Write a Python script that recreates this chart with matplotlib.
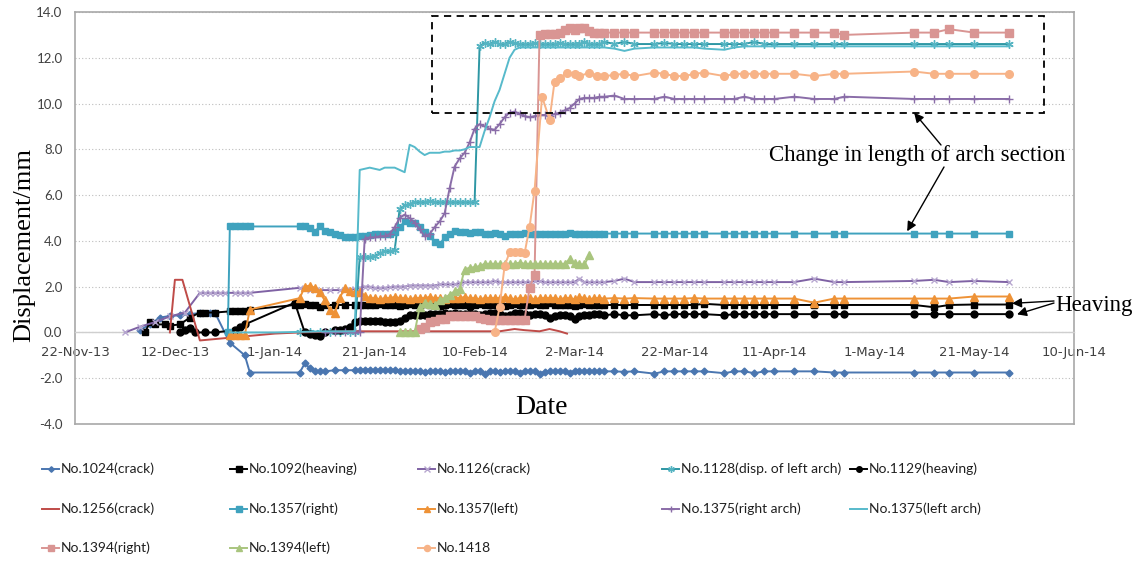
import matplotlib
matplotlib.use('Agg')
import matplotlib.pyplot as plt
import matplotlib.dates as mdates
from matplotlib.patches import Rectangle
from matplotlib.ticker import FuncFormatter, MultipleLocator
from datetime import datetime

plt.rcParams['axes.unicode_minus'] = False

# days counted from 22-Nov-2013
start = mdates.date2num(datetime(2013, 11, 22))

mid_days = [57, 58, 59, 60, 61, 62, 63, 64, 65, 66, 67, 68, 69, 70, 71, 72, 73, 74, 75, 76,
            77, 78, 79, 80, 81, 82, 83, 84, 85, 86, 87, 88, 89, 90, 91, 92, 93, 94, 95, 96,
            97, 98, 99, 100, 101, 102, 103, 104, 105]
late_days = [106, 108, 110, 112, 116, 118, 120, 122, 124, 126, 130, 132, 134, 136, 138, 140,
             144, 148, 152, 154, 168, 172, 175, 180, 187]

# No.1024 (crack)
d1024_early = [13, 15, 17, 19, 21, 23, 25, 27, 28, 31, 34, 35, 45, 46, 47, 48, 49, 50, 52, 54, 56]
v1024_early = [0.1, 0.35, 0.65, 0.72, 0.75, 0.8, 0.85, 0.85, 0.87, -0.45, -1.0, -1.75, -1.75, -1.35,
               -1.55, -1.7, -1.7, -1.7, -1.65, -1.65, -1.65]
v1024_mid = [-1.65, -1.62, -1.62, -1.65, -1.62, -1.65, -1.65, -1.62, -1.7, -1.7, -1.68, -1.7, -1.7, -1.72,
             -1.7, -1.7, -1.7, -1.72, -1.7, -1.7, -1.7, -1.7, -1.75, -1.7,
             -1.7, -1.8, -1.7, -1.7, -1.72, -1.7, -1.7, -1.7, -1.75, -1.7,
             -1.7, -1.7, -1.8, -1.72, -1.7, -1.7, -1.7, -1.7, -1.75, -1.7,
             -1.7, -1.7, -1.7, -1.7, -1.7]
v1024_late = [-1.7, -1.7, -1.72, -1.7, -1.8, -1.7, -1.7, -1.7, -1.7, -1.7, -1.78, -1.7, -1.7,
              -1.78, -1.7, -1.7, -1.7, -1.7, -1.75, -1.75, -1.75, -1.75, -1.75, -1.75, -1.75]

# No.1092 (heaving)
d1092_early = [14, 15, 16, 18, 19, 21, 23, 25, 26, 28, 31, 32, 33, 34, 35, 44, 45, 46, 47, 48,
               49, 50, 52, 54, 56]
v1092_early = [0.0, 0.45, 0.35, 0.35, 0.3, 0.35, 0.65, 0.87, 0.87, 0.87, 0.92, 0.92, 0.92, 0.95,
               1.0, 1.2, 1.2, 1.25, 1.2, 1.2, 1.1, 1.2, 1.2, 1.2, 1.2]
v1092_mid = [1.2, 1.22, 1.2, 1.2, 1.25, 1.2, 1.2, 1.2, 1.15, 1.2,
             1.25, 1.2, 1.2, 1.25, 1.2, 1.2, 1.15, 1.2, 1.25, 1.2,
             1.2, 1.2, 1.15, 1.2, 1.25, 1.2, 1.2, 1.2, 1.2, 1.15,
             1.2, 1.25, 1.2, 1.2, 1.2, 1.25, 1.2, 1.2, 1.3, 1.2,
             1.2, 1.2, 1.2, 1.15, 1.2, 1.25, 1.2, 1.2, 1.2]
v1092_late = [1.2, 1.2, 1.2, 1.2, 1.2, 1.2, 1.2, 1.2, 1.2, 1.25, 1.2, 1.2, 1.2, 1.2, 1.2, 1.2,
              1.2, 1.2, 1.2, 1.2, 1.2, 1.1, 1.2, 1.22, 1.22]

# No.1126 (crack)
d1126_early = [10, 13, 16, 19, 22, 25, 26, 27, 28, 29, 30, 32, 33, 34, 35, 45, 47, 49, 51, 53, 55, 56]
v1126_early = [0.0, 0.25, 0.45, 0.7, 0.87, 1.73, 1.73, 1.73, 1.73, 1.73, 1.73, 1.73, 1.73, 1.73,
               1.73, 1.95, 1.85, 1.85, 1.85, 1.85, 1.85, 1.9]
v1126_mid = [1.95, 2.0, 2.0, 1.95, 1.95, 1.95, 1.98, 2.0,
             2.0, 2.0, 2.05, 2.05, 2.05, 2.05, 2.05, 2.05, 2.1, 2.1, 2.1, 2.1,
             2.15, 2.2, 2.2, 2.2, 2.2, 2.2, 2.2, 2.25, 2.2, 2.2,
             2.2, 2.2, 2.2, 2.2, 2.2, 2.25, 2.25, 2.2, 2.2, 2.2,
             2.2, 2.2, 2.2, 2.2, 2.35, 2.2, 2.2, 2.2, 2.2]
v1126_late = [2.2, 2.25, 2.35, 2.2, 2.2, 2.2, 2.2, 2.2, 2.2, 2.2, 2.2, 2.2, 2.2, 2.2, 2.2, 2.2,
              2.2, 2.35, 2.2, 2.2, 2.25, 2.3, 2.2, 2.25, 2.2]

# No.1128 (disp. of left arch)
d1128_early = [45, 47, 49, 51, 53, 55, 56]
v1128_early = [0.0, 0.0, 0.0, 0.0, 0.0, 0.0, 0.0]
v1128_mid = [3.3, 3.3, 3.3, 3.35, 3.45, 3.55, 3.55, 3.6,
             5.4, 5.55, 5.6, 5.7, 5.7, 5.7, 5.75, 5.7, 5.7, 5.7, 5.7, 5.7, 5.7, 5.7, 5.7, 5.7,
             12.5, 12.65, 12.6, 12.7, 12.6, 12.6, 12.7, 12.65, 12.6, 12.6,
             12.6, 12.65, 12.6, 12.6, 12.6, 12.6, 12.65, 12.6, 12.6, 12.6,
             12.6, 12.7, 12.6, 12.6, 12.6]
v1128_late = [12.7, 12.6, 12.7, 12.6, 12.6, 12.65, 12.6, 12.6, 12.6, 12.6, 12.6, 12.6, 12.6, 12.7,
              12.6, 12.6, 12.6, 12.6, 12.6, 12.6, 12.6, 12.6, 12.6, 12.6, 12.6]

# No.1129 (heaving)
d1129_early = [21, 22, 23, 24, 26, 28, 32, 33, 34, 44, 46, 47, 48, 49, 50, 52, 53, 54, 55, 56]
v1129_early = [0.0, 0.1, 0.2, 0.0, 0.0, 0.0, 0.1, 0.25, 0.35, 1.3, 0.0, -0.05, -0.1, -0.15, 0.0,
               0.1, 0.1, 0.15, 0.25, 0.45]
v1129_mid = [0.48, 0.5, 0.5, 0.5, 0.48, 0.45, 0.45, 0.45, 0.5,
             0.65, 0.75, 0.75, 0.75, 0.78, 0.8, 0.8, 0.8, 0.85, 0.8,
             0.85, 0.8, 0.8, 0.85, 0.8, 0.75, 0.8, 0.85, 0.85, 0.8,
             0.7, 0.75, 0.85, 0.85, 0.8, 0.75, 0.8, 0.8, 0.75, 0.65,
             0.7, 0.75, 0.75, 0.7, 0.6, 0.7, 0.75, 0.75, 0.8, 0.8]
v1129_late = [0.75, 0.8, 0.75, 0.75, 0.8, 0.75, 0.8, 0.8, 0.8, 0.8, 0.75, 0.8, 0.8, 0.8, 0.8, 0.8,
              0.8, 0.8, 0.8, 0.8, 0.8, 0.8, 0.8, 0.8, 0.8]

# No.1256 (crack)
d1256 = [19, 20, 21.5, 25, 30, 35, 40, 45, 55, 65, 75, 85, 88, 90, 93, 95, 97, 98.5]
v1256 = [0.0, 2.3, 2.3, -0.35, -0.25, -0.15, -0.05, 0.0, 0.05, 0.05, 0.05, 0.05, 0.15, 0.1, 0.05,
         0.15, 0.05, -0.05]

# No.1357 (right)
d1357r_early = [30.6, 31, 32, 33, 34, 35, 45, 46, 47, 48, 49, 50, 51, 52, 53, 54, 55, 56]
v1357r_early = [0.0, 4.63, 4.63, 4.63, 4.63, 4.63, 4.63, 4.63, 4.55, 4.4, 4.63, 4.45, 4.4, 4.3,
                4.25, 4.15, 4.15, 4.15]
v1357r_mid = [4.2, 4.2, 4.25, 4.28, 4.28, 4.28, 4.3, 4.4, 4.6, 4.85,
              4.8, 4.8, 4.6, 4.4, 4.2, 3.95, 3.85, 4.15, 4.3, 4.45,
              4.4, 4.4, 4.35, 4.4, 4.4, 4.3, 4.3, 4.35, 4.3, 4.2,
              4.3, 4.3, 4.3, 4.35, 4.3, 4.3, 4.3, 4.3, 4.3, 4.3,
              4.3, 4.3, 4.35, 4.3, 4.3, 4.3, 4.3, 4.3, 4.3]
v1357r_late = [4.32, 4.32, 4.32, 4.32, 4.32, 4.32, 4.32, 4.32, 4.32, 4.32, 4.32, 4.32, 4.32,
               4.32, 4.32, 4.32, 4.32, 4.32, 4.32, 4.32, 4.32, 4.32, 4.32, 4.32, 4.32]

# No.1357 (left)
d1357l_early = [31, 32, 33, 34, 35, 45, 46, 47, 48, 49, 50, 51, 52, 53, 54, 55, 56]
v1357l_early = [-0.1, -0.1, -0.1, -0.1, 1.0, 1.5, 2.0, 2.05, 1.95, 1.75, 1.4, 1.0, 0.87, 1.5, 1.95,
                1.8, 1.75]
v1357l_mid = [1.75, 1.6, 1.5,
              1.5, 1.45, 1.5, 1.5, 1.55, 1.5, 1.5, 1.45, 1.5, 1.5,
              1.5, 1.55, 1.5, 1.5, 1.45, 1.5, 1.5, 1.5, 1.55, 1.5,
              1.5, 1.45, 1.5, 1.5, 1.5, 1.5, 1.55, 1.5, 1.45, 1.5,
              1.5, 1.5, 1.45, 1.5, 1.5, 1.5, 1.5, 1.45, 1.5, 1.5,
              1.45, 1.55, 1.5, 1.45, 1.5, 1.5]
v1357l_late = [1.48, 1.5, 1.48, 1.5, 1.48, 1.48, 1.48, 1.48, 1.5, 1.48, 1.48, 1.48, 1.48, 1.48,
               1.48, 1.48, 1.48, 1.3, 1.48, 1.48, 1.48, 1.48, 1.48, 1.57, 1.57]

# No.1375 (right arch)
d1375r_early = [50, 52, 54, 56]
v1375r_early = [0.0, 0.0, 0.0, 0.0]
v1375r_mid = [0.0, 4.1, 4.15, 4.15, 4.2, 4.2, 4.3, 4.6, 5.0, 5.15,
              5.0, 4.8, 4.5, 4.2, 4.3, 4.6, 4.85, 5.2, 6.3, 7.25,
              7.6, 7.85, 8.3, 8.9, 9.1, 9.0, 8.9, 8.85, 9.1, 9.4,
              9.6, 9.65, 9.55, 9.45, 9.4, 9.45, 9.5, 9.5, 9.45, 9.55,
              9.6, 9.7, 9.8, 10.0, 10.2, 10.25, 10.25, 10.25, 10.3]
v1375r_late = [10.3, 10.35, 10.2, 10.2, 10.2, 10.3, 10.2, 10.2, 10.2, 10.2, 10.2, 10.2, 10.3,
               10.2, 10.2, 10.2, 10.3, 10.2, 10.2, 10.3, 10.2, 10.2, 10.2, 10.2, 10.2]

# No.1375 (left arch)
d1375l_early = [31, 40, 50, 56]
v1375l_early = [0.0, 0.0, 0.05, 0.05]
v1375l_mid = [7.1, 7.15, 7.2, 7.15, 7.1, 7.2, 7.2, 7.2, 7.1, 7.0,
              8.2, 8.1, 7.9, 7.75, 7.85, 7.85, 7.85, 7.9, 7.9, 7.95,
              7.95, 8.0, 8.1, 8.1, 8.1, 8.8, 9.4, 10.1, 10.6, 11.3,
              12.0, 12.35, 12.45, 12.45, 12.45, 12.45, 12.45, 12.45, 12.45, 12.45,
              12.45, 12.45, 12.45, 12.45, 12.45, 12.45, 12.45, 12.45, 12.45]
v1375l_late = [12.45, 12.4, 12.3, 12.4, 12.45, 12.45, 12.45, 12.45, 12.45, 12.4, 12.35, 12.45,
               12.5, 12.5, 12.5, 12.5, 12.5, 12.5, 12.5, 12.5, 12.5, 12.5, 12.5, 12.5, 12.5]

# No.1394 (right)
d1394r_early = [69, 70, 71, 72, 73, 74, 75, 76, 77, 78, 79, 80, 81, 82, 83, 84, 85, 86, 87, 88,
                89, 90, 91, 92, 93, 94, 95, 96, 97, 98, 99, 100, 101, 102, 103, 104, 105]
v1394r_early = [0.15, 0.25, 0.45, 0.5, 0.6, 0.6, 0.7, 0.7, 0.7, 0.7,
                0.7, 0.7, 0.65, 0.6, 0.55, 0.55, 0.55, 0.55, 0.55, 0.55,
                0.55, 0.55, 1.95, 2.5, 13.0, 13.05, 13.05, 13.05, 13.1, 13.2,
                13.3, 13.2, 13.3, 13.3, 13.15, 13.1, 13.1]
v1394r_late = [13.1, 13.1, 13.1, 13.1, 13.1, 13.1, 13.1, 13.1, 13.1, 13.1, 13.1, 13.1, 13.1,
               13.1, 13.1, 13.1, 13.1, 13.1, 13.1, 13.0, 13.1, 13.1, 13.25, 13.1, 13.1]

# No.1394 (left)
d1394l = [65, 66, 67, 68, 69, 70, 71, 72, 73, 74, 75, 76, 77, 78, 79, 80, 81, 82, 83, 84,
          85, 86, 87, 88, 89, 90, 91, 92, 93, 94, 95, 96, 97, 98, 99, 100, 101, 102, 103]
v1394l = [0.0, 0.0, 0.0, 0.0, 1.1, 1.3, 1.25, 1.2, 1.4, 1.5,
          1.65, 1.8, 1.9, 2.75, 2.83, 2.85, 2.9, 3.0, 3.0, 3.0,
          3.0, 3.0, 3.0, 3.0, 3.05, 3.0, 3.0, 3.0, 3.0, 3.0,
          3.0, 3.0, 3.0, 3.0, 3.2, 3.05, 2.97, 2.97, 3.4]

# No.1418
d1418_early = [84, 85, 86, 87, 88, 89, 90, 91, 92, 93.5, 95, 96, 97, 98.5, 100, 101, 103, 104.5]
v1418_early = [0.0, 1.1, 2.9, 3.5, 3.5, 3.5, 3.45, 4.6, 6.2, 10.3, 9.3, 10.95, 11.1, 11.35, 11.3,
               11.2, 11.35, 11.2]
v1418_late = [11.2, 11.25, 11.3, 11.2, 11.35, 11.3, 11.2, 11.2, 11.3, 11.35, 11.2, 11.3, 11.3,
              11.3, 11.3, 11.3, 11.3, 11.2, 11.3, 11.3, 11.4, 11.3, 11.3, 11.3, 11.3]

asterisk = (6, 2, 0)
series = [
    # label, days, values, line colour, marker, marker colour, marker size
    ('No.1024(crack)', d1024_early + mid_days + late_days, v1024_early + v1024_mid + v1024_late,
     '#4A76B0', 'D', '#4A76B0', 3.5),
    ('No.1092(heaving)', d1092_early + mid_days + late_days, v1092_early + v1092_mid + v1092_late,
     '#000000', 's', '#000000', 5),
    ('No.1126(crack)', d1126_early + mid_days + late_days, v1126_early + v1126_mid + v1126_late,
     '#7F62A4', 'x', '#B6A6CF', 5),
    ('No.1128(disp. of left arch)', d1128_early + mid_days + late_days,
     v1128_early + v1128_mid + v1128_late, '#2E97A4', asterisk, '#55B4C2', 6),
    ('No.1129(heaving)', d1129_early + mid_days + late_days, v1129_early + v1129_mid + v1129_late,
     '#000000', 'o', '#000000', 5),
    ('No.1256(crack)', d1256, v1256, '#BF4B48', None, None, 0),
    ('No.1357(right)', d1357r_early + mid_days + late_days, v1357r_early + v1357r_mid + v1357r_late,
     '#3FA2BE', 's', '#3FA2BE', 5),
    ('No.1357(left)', d1357l_early + mid_days + late_days, v1357l_early + v1357l_mid + v1357l_late,
     '#EE9236', '^', '#EE9236', 5.5),
    ('No.1375(right arch)', d1375r_early + mid_days + late_days,
     v1375r_early + v1375r_mid + v1375r_late, '#8A6DA8', '+', '#8A6DA8', 6),
    ('No.1375(left arch)', d1375l_early + mid_days + late_days,
     v1375l_early + v1375l_mid + v1375l_late, '#57BACB', None, None, 0),
    ('No.1394(right)', d1394r_early + late_days, v1394r_early + v1394r_late,
     '#D99593', 's', '#D99593', 5.5),
    ('No.1394(left)', d1394l, v1394l, '#A9C57E', '^', '#A9C57E', 5.5),
    ('No.1418', d1418_early + late_days, v1418_early + v1418_late, '#F7B387', 'o', '#F7B387', 5.5),
]

W, H = 1142, 577
fig = plt.figure(figsize=(W / 100, H / 100), dpi=100)
ax = fig.add_axes([75 / W, 1 - 424 / H, 999 / W, 412 / H])

for i, (label, days, vals, col, mk, mcol, ms) in enumerate(series):
    xs = [start + d for d in days]
    ax.plot(xs, vals, color=col, lw=1.4, marker=mk, ms=ms, mfc=mcol, mec=mcol,
            mew=1.0, zorder=3 + i, solid_joinstyle='round')

ax.set_xlim(start, start + 200)
ax.set_ylim(-4, 14)
ax.yaxis.set_major_locator(MultipleLocator(2))
ax.yaxis.set_major_formatter(FuncFormatter(lambda v, p: '%.1f' % v))
ax.set_xticks([start + 20 * k for k in range(11)])


def date_label(x, pos):
    dt = mdates.num2date(x)
    return '%d-%s' % (dt.day, dt.strftime('%b-%y'))


ax.xaxis.set_major_formatter(FuncFormatter(date_label))
ax.tick_params(axis='both', length=0, labelsize=9.5, colors='#404040')
ax.tick_params(axis='x', pad=10)
ax.tick_params(axis='y', pad=9)
for t in ax.get_xticklabels() + ax.get_yticklabels():
    t.set_fontfamily('Lato')

ax.yaxis.grid(True, linestyle=(0, (1, 2)), color='#BDBDBD', lw=0.8, zorder=0)
ax.set_axisbelow(True)
for s in ['top', 'left', 'right']:
    ax.spines[s].set_color('#A8A8A8')
    ax.spines[s].set_linewidth(1.2)
ax.spines['bottom'].set_position(('data', 0))
ax.spines['bottom'].set_color('#CFCFCF')
ax.spines['bottom'].set_linewidth(1.0)
ax.plot([0, 1], [0, 0], transform=ax.transAxes, color='#A8A8A8', lw=1.2, clip_on=False)

# dashed frame round the arch-length readings
ax.add_patch(Rectangle((start + 71.4, 9.6), 122.6, 4.24, fill=False, ec='k',
                       ls=(0, (4, 3)), lw=1.3, zorder=20))

serif = 'Liberation Serif'
arrow = dict(arrowstyle='-|>', color='k', lw=1.0, mutation_scale=14, shrinkA=0, shrinkB=0)
ax.annotate('Change in length of arch section', xy=(start + 168, 9.6),
            xytext=(917, H - 155), textcoords='figure pixels', ha='center', va='center',
            fontsize=16.5, family=serif, zorder=25)
ax.annotate('', xy=(start + 168, 9.6), xytext=(941, H - 145), textcoords='figure pixels',
            arrowprops=arrow, zorder=25)
ax.annotate('', xy=(start + 166.6, 4.42), xytext=(944, H - 167), textcoords='figure pixels',
            arrowprops=arrow, zorder=25)

ax.annotate('Heaving', xy=(start + 187.6, 1.27), xytext=(1055, H - 306),
            textcoords='figure pixels', ha='left', va='center', fontsize=16.5, family=serif,
            annotation_clip=False)
ax.annotate('', xy=(start + 187.6, 1.27), xytext=(1054, H - 301), textcoords='figure pixels',
            arrowprops=arrow, annotation_clip=False)
ax.annotate('', xy=(start + 188.6, 0.79), xytext=(1054, H - 303), textcoords='figure pixels',
            arrowprops=arrow, annotation_clip=False)

fig.text(541 / W, 1 - 408 / H, 'Date', ha='center', va='center', fontsize=20, family=serif)
fig.text(24 / W, 1 - 245 / H, 'Displacement/mm', rotation=90, ha='center', va='center',
         fontsize=19, family=serif)

# legend laid out in three rows under the plot
lg = fig.add_axes([0, 0, 1, 1], zorder=-1)
lg.set_xlim(0, W)
lg.set_ylim(H, 0)
lg.axis('off')
col_x = [42, 230, 418, 662, 850]
row_y = [469, 509, 548]
for i, (label, days, vals, col, mk, mcol, ms) in enumerate(series):
    x0 = col_x[i % 5]
    y0 = row_y[i // 5]
    lg.plot([x0, x0 + 17], [y0, y0], color=col, lw=1.4)
    if mk is not None:
        lg.plot([x0 + 8.5], [y0], marker=mk, ms=ms * 0.8, mfc=mcol, mec=mcol, mew=1.0)
    lg.text(x0 + 19, y0, label, va='center', ha='left', fontsize=10, family='Lato',
            color='#202020')

fig.savefig('out.png', dpi=100)
